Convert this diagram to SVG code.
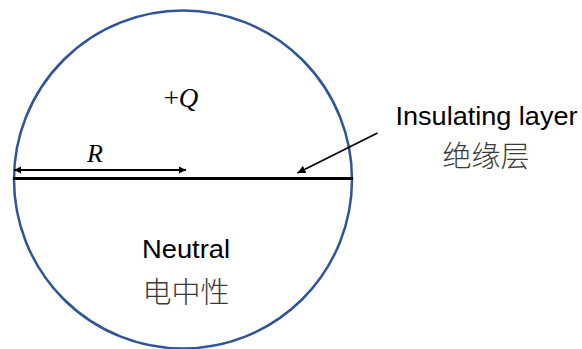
<svg xmlns="http://www.w3.org/2000/svg" width="582" height="349" viewBox="0 0 582 349">
<style>
.lbl{font-family:"Liberation Sans","Noto Sans CJK SC",sans-serif;fill:#000;text-anchor:middle}
.cjk{font-family:"Noto Sans CJK SC",sans-serif;fill:#3a3a3a;text-anchor:middle;font-weight:300}
.math{font-family:"Liberation Serif",serif;fill:#000;text-anchor:middle}
.ln{stroke:#000;fill:none}
</style>
<defs>
<marker id="ah" viewBox="0 0 10 10" refX="10" refY="5" markerWidth="4" markerHeight="4" orient="auto-start-reverse" markerUnits="strokeWidth">
<path d="M0,0 L10,5 L0,10 Z" fill="#000"/>
</marker>
<marker id="ah2" viewBox="0 0 10 10" refX="10" refY="5" markerWidth="4.5" markerHeight="4.5" orient="auto" markerUnits="strokeWidth">
<path d="M0,0 L10,5 L0,10 Z" fill="#000"/>
</marker>
</defs>
<g id="sphere">
<circle cx="183" cy="179.5" r="169" fill="none" stroke="#2F5597" stroke-width="2.5"/>
</g>
<g id="connectors">
<line class="ln" x1="13" y1="178.5" x2="353" y2="178.5" stroke-width="3"/>
<line class="ln" x1="14" y1="170" x2="186" y2="170" stroke-width="1.8" marker-start="url(#ah)" marker-end="url(#ah)"/>
<line class="ln" x1="377.5" y1="133" x2="297.5" y2="173" stroke-width="1.8" marker-end="url(#ah2)"/>
</g>
<g id="charge">
<text class="math" x="181" y="107" font-size="27">+<tspan font-style="italic">Q</tspan></text>
</g>
<g id="radius">
<text class="math" x="95" y="162" font-size="26" font-style="italic">R</text>
</g>
<g id="insulating-label">
<text class="lbl" x="486.5" y="125" font-size="25.5" textLength="182" lengthAdjust="spacingAndGlyphs">Insulating layer</text>
<text class="cjk" x="486" y="167" font-size="29">绝缘层</text>
</g>
<g id="neutral-label">
<text class="lbl" x="186" y="258" font-size="25" textLength="88" lengthAdjust="spacingAndGlyphs">Neutral</text>
<text class="cjk" x="186" y="303" font-size="29">电中性</text>
</g>
</svg>
